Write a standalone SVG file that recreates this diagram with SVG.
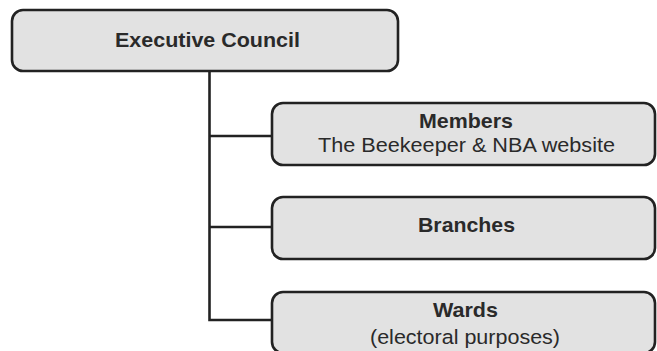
<svg xmlns="http://www.w3.org/2000/svg" width="657" height="351" viewBox="0 0 657 351">
<style>
.box{fill:#e2e2e2;stroke:#222;stroke-width:2.6}
.conn{fill:none;stroke:#222;stroke-width:2.6}
.t{font-family:"Liberation Sans",Arial,sans-serif;fill:#2a2a2a;text-anchor:middle}
.b{font-weight:bold;font-size:20.5px}
.r{font-size:20.5px}
</style>
<rect width="657" height="351" fill="#fff"/>
<g id="connectors">
<path class="conn" d="M209.5 71 V320 H272 M209.5 136 H272 M209.5 227 H272"/>
</g>
<g id="executive-council">
<rect class="box" x="12" y="10" width="386" height="61" rx="11"/>
<text class="t b" x="207.5" y="47" textLength="185" lengthAdjust="spacingAndGlyphs">Executive Council</text>
</g>
<g id="members">
<rect class="box" x="272" y="103" width="383" height="62" rx="11"/>
<text class="t b" x="466" y="128" textLength="94" lengthAdjust="spacingAndGlyphs">Members</text>
<text class="t r" x="466.5" y="152" textLength="297" lengthAdjust="spacingAndGlyphs">The Beekeeper &amp; NBA website</text>
</g>
<g id="branches">
<rect class="box" x="272" y="197" width="383" height="62" rx="11"/>
<text class="t b" x="466.5" y="232" textLength="97" lengthAdjust="spacingAndGlyphs">Branches</text>
</g>
<g id="wards">
<rect class="box" x="272" y="292" width="383" height="61" rx="11"/>
<text class="t b" x="465.5" y="317" textLength="65" lengthAdjust="spacingAndGlyphs">Wards</text>
<text class="t r" x="465" y="344" textLength="190" lengthAdjust="spacingAndGlyphs">(electoral purposes)</text>
</g>
</svg>
